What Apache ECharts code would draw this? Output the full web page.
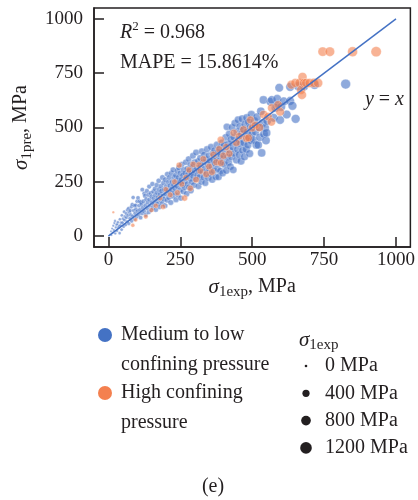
<!DOCTYPE html>
<html>
<head>
<meta charset="utf-8">
<script src="https://cdn.jsdelivr.net/npm/echarts@6/dist/echarts.min.js"></script>
<style>html,body{margin:0;padding:0;background:#fff;}#c{width:418px;height:500px;}</style>
</head>
<body>
<div id="c"></div>
<script>
// ---- data ----
const seriesNames = ['Medium to low\nconfining pressure', 'High confining\npressure'];
const axisTicks = [0, 250, 500, 750, 1000];
const sizeLegendValues = [0, 400, 800, 1200];
const sizeLegendLabels = ['0 MPa', '400 MPa', '800 MPa', '1200 MPa'];
const fitLine = [[0, 0], [1000, 1000]];
const r2Text = '0.968';
const mapeText = '15.8614%';

const mediumLow = [
[6,8],[9,22],[11,5],[13,35],[15,16],[17,48],[19,28],[21,60],[23,70],[24,12],[26,40],[28,52],[30,24],[31,55],[33,64],[35,38],[37,46],[39,14],[40,78],[42,50],[44,62],[46,30],[47,96],[49,62],[51,80],[53,44],[55,112],[56,74],[58,90],[60,52],
[62,104],[63,85],[65,66],[66,120],[68,96],[70,128],[71,58],[73,110],[75,82],[76,118],[78,98],[80,135],[81,70],[83,146],[85,92],[86,178],[88,118],[90,140],[91,78],[93,105],[95,142],[96,124],[98,88],[100,160],[101,115],[103,176],[105,98],[107,140],[108,160],[110,122],[112,85],[113,156],[115,148],[117,105],[118,214],[120,132],
[122,160],[124,115],[125,196],[127,185],[129,142],[130,98],[132,170],[134,208],[135,128],[137,155],[139,190],[140,110],[142,228],[143,168],[145,140],[147,198],[148,120],[150,182],[152,155],[153,240],[155,130],[157,205],[158,172],[160,145],[162,218],[163,188],[165,122],[167,160],[168,235],[170,200],[172,148],[173,178],[175,255],[177,215],[178,135],[180,192],[182,165],[183,230],[185,208],[187,150],[188,270],[190,185],[192,245],[193,170],[195,215],[197,140],[198,260],[200,195],
[202,228],[204,165],[205,285],[207,210],[209,248],[210,178],[212,270],[214,200],[215,232],[217,155],[219,290],[220,215],[222,250],[224,185],[225,305],[227,235],[229,270],[230,200],[232,220],[234,280],[235,168],[237,255],[239,300],[240,230],[242,190],[244,270],[245,315],[247,248],[249,212],[250,290],[252,175],[254,260],[255,330],[257,235],[259,280],[260,205],[262,305],[264,250],[265,225],[267,290],[269,340],[270,265],[272,195],[274,310],[275,240],[277,285],[279,355],[280,225],[282,300],[284,265],[285,330],[287,210],[289,290],[290,250],[292,320],[294,370],[295,275],[297,235],[299,340],[300,300],
[303,262],[305,385],[307,315],[309,280],[311,345],[313,230],[315,300],[317,272],[319,360],[321,325],[323,250],[325,390],[327,295],[329,340],[331,270],[333,375],[335,310],[337,245],[339,355],[341,290],[343,400],[345,330],[347,268],[349,370],[351,305],[353,345],[355,285],[357,410],[359,320],[361,260],[363,380],[365,350],[367,300],[369,395],[371,335],[373,272],[375,360],[377,420],[379,310],[381,385],[383,272],[385,345],[387,405],[389,300],[391,375],[393,335],[395,430],[397,290],[399,360],
[402,420],[404,330],[406,385],[408,455],[410,302],[412,503],[414,365],[416,425],[418,340],[420,470],[422,395],[424,320],[426,445],[428,365],[430,500],[432,410],[434,305],[436,455],[438,380],[440,520],[443,429],[445,350],[447,480],[449,400],[451,535],[453,445],[455,375],[457,505],[459,425],[461,345],[463,470],[465,540],[467,395],[469,490],[471,430],[473,365],[475,515],[477,460],[479,400],[481,545],[483,480],[485,420],[487,525],[489,455],[491,380],[493,500],[495,440],[497,560],[499,470],[502,505],[505,443],[508,530],[511,480],[514,420],[517,548],[521,420],[524,500],[527,455],[530,575],[533,383],[536,520],[539,627],[541,470],[545,498],[548,440],[550,475],[552,530],
[563,618],[568,627],[575,545],[581,590],[585,600],[587,632],[594,683],[597,535],[601,595],[610,620],[620,560],[632,687],[632,622],[640,600],[651,540],[660,690],[680,690],[717,697],[825,700]
];

const highPressure = [
[17,110],[85,50],[95,75],[130,90],[150,120],[165,140],[180,175],[190,135],[200,215],[215,190],[230,250],[240,200],[246,327],[255,240],[265,175],[270,270],[280,305],[285,220],[295,330],[305,260],[315,327],[320,300],[330,355],[340,285],[350,320],[360,295],[365,375],[375,340],[385,400],[391,337],[391,443],[400,370],[410,410],[420,380],[436,475],[445,430],[455,460],[470,490],[480,450],[487,452],[494,535],[500,498],[510,510],[525,500],[540,560],[555,550],[567,526],[568,590],[590,604],[597,572],[636,697],[650,705],[664,705],[670,673],[673,650],[675,733],[680,705],[688,705],[700,705],[715,705],[729,705],[745,849],[770,849],[849,849],[931,849]
];

// ---- chart ----
const FONT = '"Liberation Serif", "DejaVu Serif", serif';
const TXT = '#231f20';
const BLUE = '#4472c4';
const ORANGE = '#f4804f';
function sizeOf(v) { return 0.3 * Math.sqrt(v) + 1.2; }

const chart = echarts.init(document.getElementById('c'), null, {renderer: 'canvas'});

const axisCommon = {
  type: 'value', min: -50, max: 1050,
  axisLine: {show: true, onZero: false, lineStyle: {color: TXT, width: 1.5}},
  axisTick: {show: true, inside: true, length: 10, customValues: axisTicks, lineStyle: {color: TXT, width: 1.5}},
  axisLabel: {customValues: axisTicks, color: TXT, fontFamily: FONT, fontSize: 19, formatter: (v) => String(v)},
  splitLine: {show: false},
  nameLocation: 'middle',
  nameTextStyle: {
    color: TXT, fontFamily: FONT, fontSize: 20,
    rich: {
      s: {fontFamily: FONT, fontSize: 21, fontStyle: 'italic', color: TXT, lineHeight: 26, verticalAlign: 'middle'},
      sub: {fontFamily: FONT, fontSize: 15, color: TXT, lineHeight: 26, verticalAlign: 'bottom'},
      n: {fontFamily: FONT, fontSize: 20, color: TXT, lineHeight: 26, verticalAlign: 'middle'}
    }
  }
};

const sizeLegendGraphics = [];
sizeLegendValues.forEach((v, i) => {
  const cy = 366 + i * 27.3;
  sizeLegendGraphics.push({type: 'circle', shape: {cx: 306, cy: cy, r: Math.max(sizeOf(v), 2.6) / 2}, style: {fill: TXT}});
  sizeLegendGraphics.push({type: 'text', x: 325, y: cy, style: {text: sizeLegendLabels[i], font: '20px ' + FONT, fill: TXT, verticalAlign: 'middle', align: 'left'}});
});

const option = {
  animation: false,
  grid: {left: 94, right: 5, top: 8, bottom: 253, show: true, borderColor: TXT, borderWidth: 1.5},
  xAxis: Object.assign({}, axisCommon, {
    name: '{s|σ}{sub|1exp}{n|, MPa}', nameGap: 27,
    axisLabel: Object.assign({}, axisCommon.axisLabel, {margin: 4})
  }),
  yAxis: Object.assign({}, axisCommon, {
    name: '{s|σ}{sub|1pre}{n|, MPa}', nameGap: 54, nameRotate: 90,
    axisLabel: Object.assign({}, axisCommon.axisLabel, {margin: 11})
  }),
  series: [
    {
      name: seriesNames[0], type: 'scatter', data: mediumLow,
      symbolSize: (val) => sizeOf(val[0]),
      itemStyle: {color: BLUE, opacity: 0.6, borderColor: '#fff', borderWidth: 0.5},
      z: 2
    },
    {
      name: seriesNames[1], type: 'scatter', data: highPressure,
      symbolSize: (val) => sizeOf(val[0]),
      itemStyle: {color: ORANGE, opacity: 0.6, borderColor: '#fff', borderWidth: 0.5},
      z: 3
    },
    {
      type: 'line', data: fitLine, symbol: 'none', silent: true,
      lineStyle: {color: BLUE, width: 1.5}, z: 4
    }
  ],
  graphic: [
    {type: 'text', x: 120, y: 33, style: {text: '{i|R}{sup|2}{n| = ' + r2Text + '}', verticalAlign: 'middle',
      rich: {
        i: {font: 'italic 20px ' + FONT, fill: TXT, lineHeight: 26, verticalAlign: 'middle'},
        sup: {font: '13px ' + FONT, fill: TXT, lineHeight: 26, verticalAlign: 'top'},
        n: {font: '20px ' + FONT, fill: TXT, lineHeight: 26, verticalAlign: 'middle'}
      }}},
    {type: 'text', x: 120, y: 63, style: {text: 'MAPE = ' + mapeText, font: '20px ' + FONT, fill: TXT, verticalAlign: 'middle'}},
    {type: 'text', x: 404, y: 100, style: {text: '{i|y}{n| = }{i|x}', align: 'right', verticalAlign: 'middle',
      rich: {
        i: {font: 'italic 20px ' + FONT, fill: TXT},
        n: {font: '20px ' + FONT, fill: TXT}
      }}},
    {type: 'circle', shape: {cx: 105, cy: 335, r: 7}, style: {fill: BLUE}},
    {type: 'circle', shape: {cx: 105, cy: 393, r: 7}, style: {fill: ORANGE}},
    {type: 'text', x: 121, y: 350, style: {text: seriesNames[0], font: '20px ' + FONT, fill: TXT, verticalAlign: 'middle', lineHeight: 30}},
    {type: 'text', x: 121, y: 408, style: {text: seriesNames[1], font: '20px ' + FONT, fill: TXT, verticalAlign: 'middle', lineHeight: 30}},
    {type: 'text', x: 299, y: 340, style: {text: '{s|σ}{sub|1exp}', verticalAlign: 'middle',
      rich: {
        s: {font: 'italic 21px ' + FONT, fill: TXT, lineHeight: 26, verticalAlign: 'middle'},
        sub: {font: '15px ' + FONT, fill: TXT, lineHeight: 26, verticalAlign: 'bottom'}
      }}},
    ...sizeLegendGraphics,
    {type: 'text', x: 213, y: 487, style: {text: '(e)', font: '20px ' + FONT, fill: TXT, align: 'center', verticalAlign: 'middle'}}
  ]
};
chart.setOption(option);
</script>
</body>
</html>
